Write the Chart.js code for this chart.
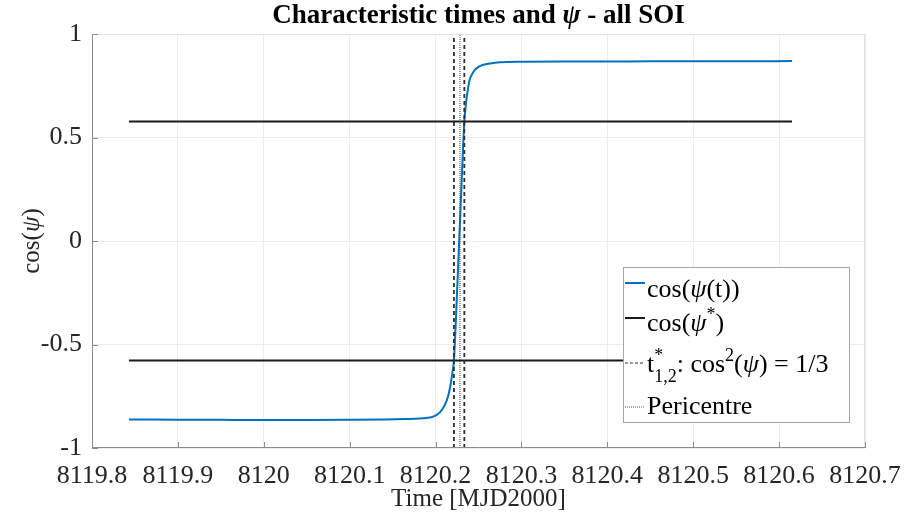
<!DOCTYPE html>
<html>
<head>
<meta charset="utf-8">
<script src="https://cdn.jsdelivr.net/npm/chart.js@4.4.0/dist/chart.umd.min.js"></script>
<style>
  html, body { margin: 0; padding: 0; background: #fff; }
  #wrap { width: 908px; height: 521px; }
</style>
</head>
<body>
<div id="wrap"><canvas id="psiChart" width="908" height="521"></canvas></div>
<script>
// cos(psi(t))
const timeMJD = [8119.843, 8119.90, 8119.95, 8120.00, 8120.05, 8120.10, 8120.14, 8120.165, 8120.1815,
  8120.1893, 8120.1960, 8120.2009, 8120.2050, 8120.2086, 8120.2120, 8120.2144, 8120.2165, 8120.2184,
  8120.2200, 8120.2214, 8120.2245, 8120.2275, 8120.2305, 8120.2335, 8120.2347, 8120.2359, 8120.2377,
  8120.2397, 8120.2425, 8120.2455, 8120.2500, 8120.2548, 8120.2640, 8120.2746, 8120.30, 8120.35,
  8120.40, 8120.45, 8120.50, 8120.55, 8120.615];
const cosPsi = [-0.862, -0.863, -0.864, -0.865, -0.865, -0.864, -0.862, -0.860, -0.858,
  -0.855, -0.850, -0.841, -0.828, -0.808, -0.781, -0.752, -0.716, -0.671,
  -0.625, -0.577, -0.300, 0.000, 0.300, 0.577, 0.635, 0.680, 0.735,
  0.778, 0.806, 0.826, 0.841, 0.850, 0.858, 0.863, 0.866, 0.867,
  0.867, 0.868, 0.868, 0.868, 0.869];

const psiStar = 0.5774;                 // cos(psi*) = 1/sqrt(3)
const psiStarSpan = [8119.843, 8120.615];
const tStar12 = [8120.2214, 8120.2335];
const tPeri = 8120.2284;

const xTickValues = [8119.8, 8119.9, 8120.0, 8120.1, 8120.2, 8120.3, 8120.4, 8120.5, 8120.6, 8120.7];
const yTickValues = [-1, -0.5, 0, 0.5, 1];
const xMin = 8119.8, xMax = 8120.7;
const yMin = -1, yMax = 1;

const serif = "'Liberation Serif', 'Times New Roman', serif";
const blue = '#0072BD';

function pts(xs, ys) { return xs.map((x, i) => ({ x: x, y: ys[i] })); }

// draws text with italic / super / subscript pieces
function drawRich(ctx, segs, x, y, size, weight, align) {
  const small = Math.round(size * 0.7);
  const f = (s, it) => (it ? 'italic ' : '') + weight + ' ' + s + 'px ' + serif;
  const parts = [];
  let total = 0;
  segs.forEach(sg => {
    let w;
    if (sg.t === undefined) {
      ctx.font = f(small, false);
      w = Math.max(sg.sup ? ctx.measureText(sg.sup).width : 0, sg.sub ? ctx.measureText(sg.sub).width : 0);
    } else {
      ctx.font = f(size, sg.i);
      w = ctx.measureText(sg.t).width;
    }
    parts.push({ sg, w });
    total += w;
  });
  let cx = align === 'center' ? x - total / 2 : x;
  ctx.textAlign = 'left';
  ctx.textBaseline = 'alphabetic';
  parts.forEach(p => {
    const sg = p.sg;
    if (sg.t === undefined) {
      ctx.font = f(small, false);
      if (sg.sup) ctx.fillText(sg.sup, cx, y - size * 0.42);
      if (sg.sub) ctx.fillText(sg.sub, cx, y + size * 0.38);
    } else {
      ctx.font = f(size, sg.i);
      ctx.fillText(sg.t, cx, y);
    }
    cx += p.w;
  });
}

const titleSegs = [{ t: 'Characteristic times and ' }, { t: 'ψ', i: true }, { t: ' - all SOI' }];
const yTitleSegs = [{ t: 'cos(' }, { t: 'ψ', i: true }, { t: ')' }];

const legendRows = [
  { segs: [{ t: 'cos(' }, { t: 'ψ', i: true }, { t: '(t))' }], color: blue, width: 2, dash: [], base: 297, line: 283 },
  { segs: [{ t: 'cos(' }, { t: 'ψ', i: true }, { sup: '*' }, { t: ')' }], color: '#1a1a1a', width: 2, dash: [], base: 331, line: 318 },
  { segs: [{ t: 't' }, { sup: '*', sub: '1,2' }, { t: ': cos' }, { sup: '2' }, { t: '(' }, { t: 'ψ', i: true }, { t: ') = 1/3' }], color: '#333', width: 1.2, dash: [3, 2], base: 372, line: 363 },
  { segs: [{ t: 'Pericentre' }], color: '#555', width: 1, dash: [1, 1], base: 414, line: 407 }
];

const decorPlugin = {
  id: 'decor',
  afterDraw(chart) {
    const ctx = chart.ctx;
    const a = chart.chartArea;
    const xs = chart.scales.x, ys = chart.scales.y;
    ctx.save();
    // top / right box
    ctx.strokeStyle = '#e3e3e3';
    ctx.lineWidth = 1;
    ctx.beginPath();
    ctx.moveTo(a.left, a.top + 0.5); ctx.lineTo(a.right, a.top + 0.5);
    ctx.moveTo(a.right - 0.5, a.top); ctx.lineTo(a.right - 0.5, a.bottom);
    ctx.stroke();
    // axes with inward ticks
    ctx.strokeStyle = '#8c8c8c';
    ctx.beginPath();
    ctx.moveTo(a.left + 0.5, a.top); ctx.lineTo(a.left + 0.5, a.bottom);
    ctx.moveTo(a.left, a.bottom - 0.5); ctx.lineTo(a.right, a.bottom - 0.5);
    xs.ticks.forEach(t => {
      const px = Math.round(xs.getPixelForValue(t.value)) + 0.5;
      ctx.moveTo(px, a.bottom); ctx.lineTo(px, a.bottom - 6);
    });
    ys.ticks.forEach(t => {
      const py = Math.round(ys.getPixelForValue(t.value)) + 0.5;
      ctx.moveTo(a.left, py); ctx.lineTo(a.left + 6, py);
    });
    ctx.stroke();

    // title
    ctx.fillStyle = '#000';
    drawRich(ctx, titleSegs, (a.left + a.right) / 2, 23, 27, 'bold', 'center');

    // y axis title, rotated
    ctx.save();
    ctx.translate(39, (a.top + a.bottom) / 2);
    ctx.rotate(-Math.PI / 2);
    ctx.fillStyle = '#262626';
    drawRich(ctx, yTitleSegs, 0, 0, 25, 'normal', 'center');
    ctx.restore();

    // legend
    ctx.fillStyle = '#fff';
    ctx.fillRect(623, 267, 226, 155);
    ctx.strokeStyle = '#a6a6a6';
    ctx.lineWidth = 1;
    ctx.strokeRect(623.5, 267.5, 226, 155);
    legendRows.forEach(r => {
      ctx.strokeStyle = r.color;
      ctx.lineWidth = r.width;
      ctx.setLineDash(r.dash);
      ctx.beginPath();
      ctx.moveTo(625, r.line); ctx.lineTo(645, r.line);
      ctx.stroke();
      ctx.setLineDash([]);
      ctx.fillStyle = '#000';
      drawRich(ctx, r.segs, 647, r.base, 26, 'normal', 'left');
    });
    ctx.restore();
  }
};

const psiData = {
  datasets: [
    {
      label: 'cos(ψ(t))',
      data: pts(timeMJD, cosPsi),
      borderColor: blue,
      borderWidth: 2,
      pointRadius: 0,
      cubicInterpolationMode: 'monotone',
      order: 5
    },
    {
      label: 'cos(ψ*)',
      data: pts(psiStarSpan, [psiStar, psiStar]),
      borderColor: '#1a1a1a',
      borderWidth: 2,
      pointRadius: 0,
      order: 4
    },
    {
      label: '-cos(ψ*)',
      data: pts(psiStarSpan, [-psiStar, -psiStar]),
      borderColor: '#1a1a1a',
      borderWidth: 2,
      pointRadius: 0,
      order: 4
    },
    {
      label: 't1*',
      data: pts([tStar12[0], tStar12[0]], [yMin, yMax]),
      borderColor: '#2e2e2e',
      borderWidth: 1.8,
      borderDash: [4, 3],
      pointRadius: 0,
      order: 1
    },
    {
      label: 't2*',
      data: pts([tStar12[1], tStar12[1]], [yMin, yMax]),
      borderColor: '#2e2e2e',
      borderWidth: 1.8,
      borderDash: [4, 3],
      pointRadius: 0,
      order: 1
    },
    {
      label: 'Pericentre',
      data: pts([tPeri, tPeri], [yMin, yMax]),
      borderColor: '#444',
      borderWidth: 1,
      borderDash: [1, 1],
      pointRadius: 0,
      order: 0
    }
  ]
};

const psiConfig = {
  type: 'line',
  data: psiData,
  options: {
    responsive: false,
    animation: false,
    layout: { padding: { top: 34, right: 43, left: 0, bottom: 0 } },
    plugins: {
      legend: { display: false },
      title: { display: false },
      tooltip: { enabled: false }
    },
    scales: {
      x: {
        type: 'linear',
        min: xMin,
        max: xMax,
        afterFit: s => { s.height = 73; s.paddingLeft = 0; s.paddingRight = 0; },
        afterBuildTicks: s => { s.ticks = xTickValues.map(v => ({ value: v })); },
        ticks: {
          autoSkip: false,
          maxRotation: 0,
          padding: 13,
          color: '#262626',
          font: { family: serif, size: 26 },
          callback: v => String(Math.round(v * 10) / 10)
        },
        grid: { color: '#ececec', drawTicks: false },
        border: { display: false },
        title: {
          display: true,
          text: 'Time [MJD2000]',
          color: '#262626',
          font: { family: serif, size: 25 },
          padding: { top: 0, bottom: 7 }
        }
      },
      y: {
        min: yMin,
        max: yMax,
        afterFit: s => { s.width = 92; s.paddingTop = 0; s.paddingBottom = 0; },
        afterBuildTicks: s => { s.ticks = yTickValues.map(v => ({ value: v })); },
        ticks: {
          padding: 10,
          color: '#262626',
          font: { family: serif, size: 26 },
          callback: v => String(v)
        },
        grid: { color: '#ececec', drawTicks: false },
        border: { display: false },
        title: { display: false }
      }
    }
  },
  plugins: [decorPlugin]
};

const psiChart = new Chart(document.getElementById('psiChart'), psiConfig);
</script>
</body>
</html>
